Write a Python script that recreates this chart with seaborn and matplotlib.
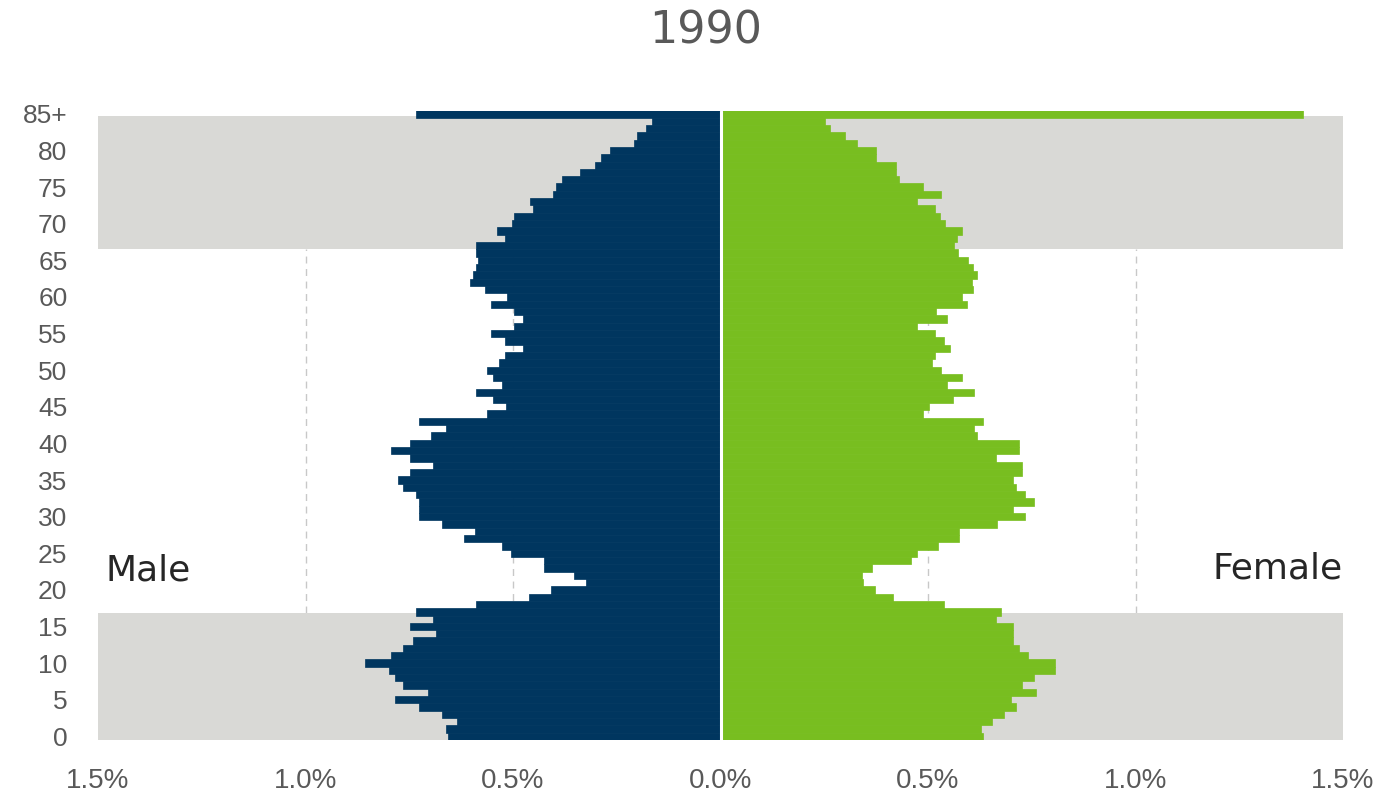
import matplotlib
matplotlib.use("Agg")
import matplotlib.pyplot as plt
import seaborn as sns
import pandas as pd
import numpy as np
from matplotlib.ticker import FuncFormatter

title = "1990"
ages = list(range(86))
age_tick_values = list(range(0, 86, 5))
age_tick_labels = [str(a) for a in range(0, 85, 5)] + ["85+"]
x_tick_values = [-1.5, -1.0, -0.5, 0.0, 0.5, 1.0, 1.5]

male = [0.656, 0.662, 0.634, 0.670, 0.726, 0.785, 0.706, 0.764, 0.785, 0.799,
        0.857, 0.793, 0.764, 0.742, 0.686, 0.748, 0.692, 0.734, 0.590, 0.462,
        0.409, 0.325, 0.353, 0.425, 0.425, 0.504, 0.526, 0.618, 0.592, 0.670,
        0.726, 0.726, 0.726, 0.734, 0.764, 0.778, 0.748, 0.692, 0.748, 0.793,
        0.748, 0.698, 0.662, 0.726, 0.562, 0.518, 0.547, 0.590, 0.526, 0.547,
        0.562, 0.534, 0.520, 0.475, 0.520, 0.554, 0.498, 0.475, 0.498, 0.554,
        0.514, 0.568, 0.604, 0.596, 0.590, 0.585, 0.590, 0.590, 0.520, 0.539,
        0.503, 0.498, 0.453, 0.460, 0.404, 0.397, 0.381, 0.339, 0.303, 0.289,
        0.267, 0.209, 0.202, 0.180, 0.164, 0.734]

female = [0.633, 0.627, 0.655, 0.683, 0.712, 0.700, 0.761, 0.727, 0.755, 0.805,
          0.805, 0.741, 0.720, 0.705, 0.705, 0.705, 0.663, 0.677, 0.539, 0.416,
          0.372, 0.344, 0.340, 0.366, 0.459, 0.474, 0.524, 0.575, 0.575, 0.667,
          0.733, 0.704, 0.755, 0.733, 0.712, 0.705, 0.727, 0.727, 0.663, 0.720,
          0.720, 0.618, 0.611, 0.633, 0.488, 0.502, 0.561, 0.610, 0.546, 0.582,
          0.531, 0.510, 0.518, 0.553, 0.539, 0.516, 0.474, 0.545, 0.519, 0.595,
          0.582, 0.609, 0.605, 0.617, 0.609, 0.597, 0.573, 0.563, 0.569, 0.582,
          0.541, 0.529, 0.518, 0.474, 0.531, 0.488, 0.431, 0.422, 0.422, 0.374,
          0.374, 0.328, 0.300, 0.264, 0.252, 1.403]

NAVY = "#00365F"
GREEN = "#78BE20"
BAND = "#D9D9D6"
TEXT = "#595959"

sns.set_theme(style="white")
plt.rcParams["font.family"] = ["DejaVu Sans"]

df_m = pd.DataFrame({"age": ages, "value": [-v for v in male]})
df_f = pd.DataFrame({"age": ages, "value": female})

fig = plt.figure(figsize=(13.89, 7.98), dpi=100)
ax = fig.add_axes([98 / 1389, 1 - 740 / 798, (1343 - 98) / 1389, (740 - 111) / 798])

# background bands and grid
ax.vlines([-1.0, -0.5, 0.5, 1.0], 16.9, 66.5, colors="#C8C8C8", lw=1.0,
          linestyles=(0, (5, 4)), zorder=0.2)
ax.axhspan(-0.5, 16.9, color=BAND, zorder=0.5, lw=0)
ax.axhspan(66.5, 84.7, color=BAND, zorder=0.5, lw=0)

sns.barplot(data=df_m, x="value", y="age", orient="h", native_scale=True,
            width=1.0, color=NAVY, saturation=1, edgecolor=NAVY, linewidth=0.5,
            ax=ax, zorder=2)
sns.barplot(data=df_f, x="value", y="age", orient="h", native_scale=True,
            width=1.0, color=GREEN, saturation=1, edgecolor=GREEN, linewidth=0.5,
            ax=ax, zorder=2)

ax.axvline(0, color="white", lw=2.2, zorder=3)

ax.set_xlim(-1.5, 1.5)
ax.set_ylim(-0.5, 85.4)
ax.set_yticks(age_tick_values)
ax.set_yticklabels(age_tick_labels)
ax.set_xticks(x_tick_values)
ax.xaxis.set_major_formatter(FuncFormatter(lambda v, p: f"{abs(v):.1f}%"))
ax.tick_params(axis="y", length=0, pad=22, labelsize=19, labelcolor=TEXT)
ax.tick_params(axis="x", length=0, pad=20, labelsize=20, labelcolor=TEXT)
for lbl in ax.get_xticklabels() + ax.get_yticklabels():
    lbl.set_fontfamily(["Liberation Sans", "DejaVu Sans"])
ax.set_xlabel("")
ax.set_ylabel("")
for s in ax.spines.values():
    s.set_visible(False)
ax.grid(False)

ax.text(-1.482, 22.6, "Male", ha="left", va="center", fontsize=26, color="#262626", zorder=4)
ax.text(1.5, 22.9, "Female", ha="right", va="center", fontsize=26, color="#262626", zorder=4)

fig.text(706 / 1389, 1 - 31 / 798, title, ha="center", va="center", fontsize=32, color=TEXT)

fig.savefig("out.png", dpi=100, facecolor="white")
